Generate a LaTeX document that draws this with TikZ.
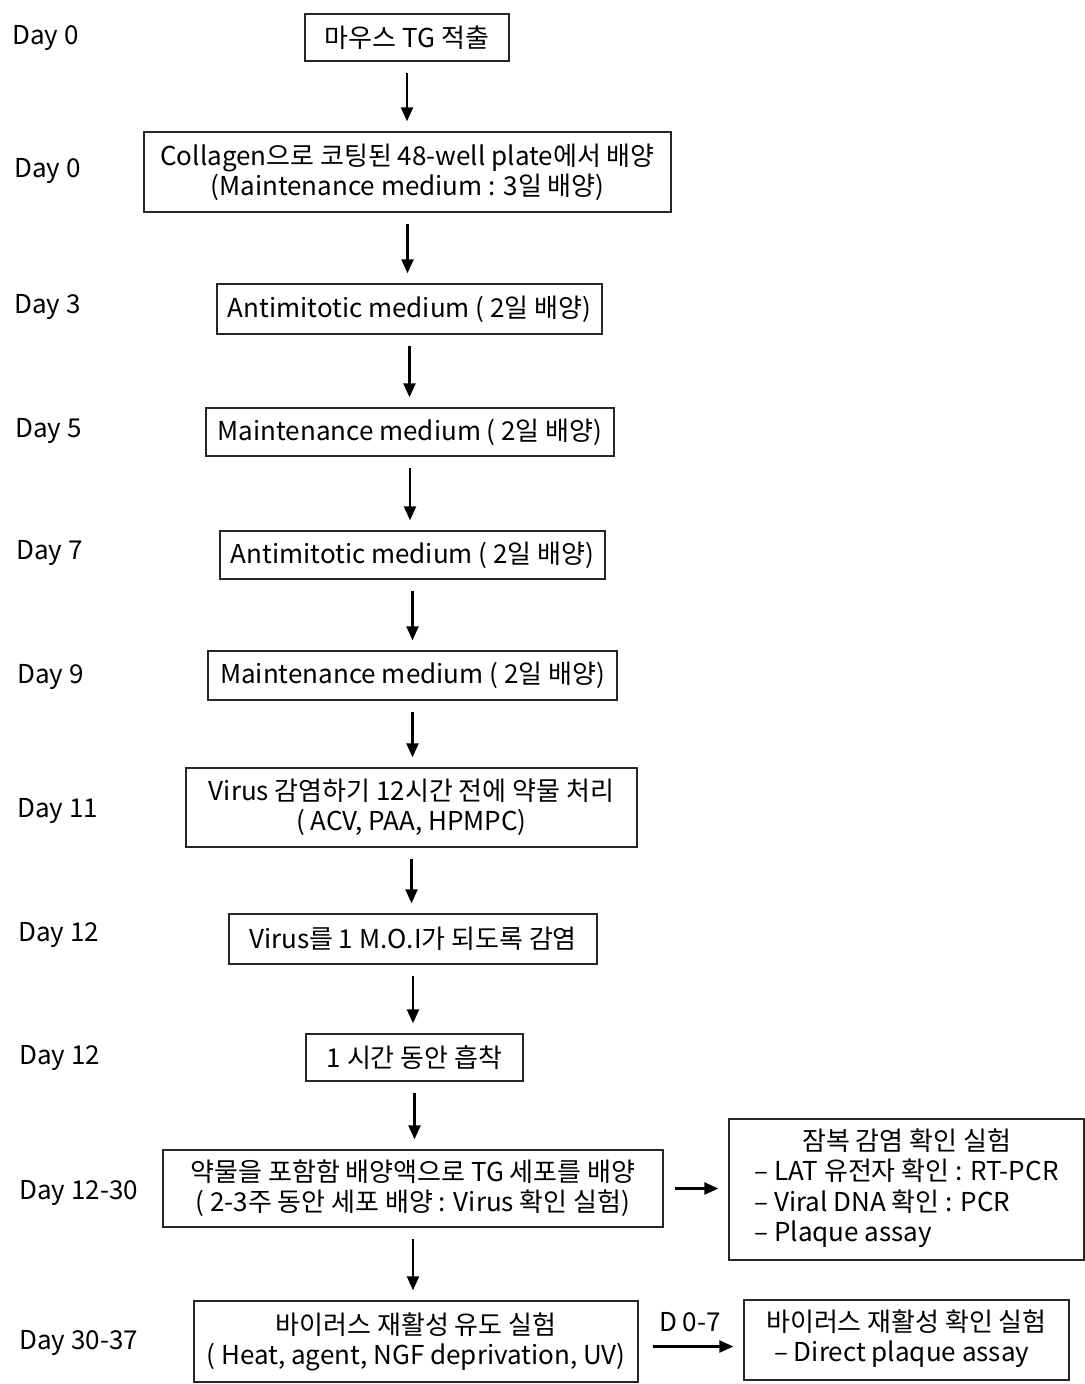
\documentclass[tikz,border=0pt]{standalone}
\usepackage{fontspec}
\setmainfont{Noto Sans CJK KR}
\usetikzlibrary{arrows.meta}

\tikzset{
  box/.style={draw=black!85, line width=0.7pt, inner sep=0pt, align=center, font=\fontsize{13}{15}\selectfont},
  day/.style={anchor=west, inner sep=0pt, font=\fontsize{13}{15}\selectfont},
  flow/.style={-{Triangle[length=7pt,width=6pt]}, line width=1.2pt, shorten >=5pt, shorten <=5.5pt}
}

\begin{document}
\begin{tikzpicture}[x=0.5pt, y=-0.5pt]
\useasboundingbox (0,0) rectangle (1084,1384);
\node[box, minimum width=102pt, minimum height=23.5pt] (tg) at (407,37.5) {마우스 TG 적출};
\node[box, minimum width=263.5pt, minimum height=40pt] (coll) at (407.5,172) {Collagen으로 코팅된 48-well plate에서 배양\\(Maintenance medium : 3일 배양)};
\node[box, minimum width=192.5pt, minimum height=25pt] (anti1) at (409.5,309) {Antimitotic medium ( 2일 배양)};
\node[box, minimum width=204pt, minimum height=24pt] (main1) at (410,432) {Maintenance medium ( 2일 배양)};
\node[box, minimum width=192.5pt, minimum height=24pt] (anti2) at (412.5,555) {Antimitotic medium ( 2일 배양)};
\node[box, minimum width=204.5pt, minimum height=24.5pt] (main2) at (412.5,675.5) {Maintenance medium ( 2일 배양)};
\node[box, minimum width=225.5pt, minimum height=39.5pt] (drug) at (411.5,807.5) {Virus 감염하기 12시간 전에 약물 처리\\( ACV, PAA, HPMPC)};
\node[box, minimum width=184pt, minimum height=25pt] (infect) at (413,939) {Virus를 1 M.O.I가 되도록 감염};
\node[box, minimum width=108.5pt, minimum height=23.5pt] (adsorb) at (414.5,1057.5) {1 시간 동안 흡착};
\node[box, minimum width=250pt, minimum height=38.5pt] (culture) at (413,1188.5) {약물을 포함함 배양액으로 TG 세포를 배양\\( 2-3주 동안 세포 배양 : Virus 확인 실험)};
\node[box, minimum width=222pt, minimum height=40.5pt] (react) at (416,1341.5) {바이러스 재활성 유도 실험\\( Heat, agent, NGF deprivation, UV)};
\node[box, minimum width=177.5pt, minimum height=70.5pt] (latent) at (906.5,1189.5) {\begin{tabular}{@{}l@{}}\multicolumn{1}{@{}c@{}}{잠복 감염 확인 실험}\\– LAT 유전자 확인 : RT-PCR\\– Viral DNA 확인 : PCR\\– Plaque assay\end{tabular}};
\node[box, minimum width=162.5pt, minimum height=40pt] (check) at (906.5,1340) {\begin{tabular}{@{}l@{}}바이러스 재활성 확인 실험\\\hspace{4pt}– Direct plaque assay\end{tabular}};

\node[day] (d0a) at (12,38) {Day 0};
\node[day] (d0b) at (14,171) {Day 0};
\node[day] (d3) at (14,307) {Day 3};
\node[day] (d5) at (15,431) {Day 5};
\node[day] (d7) at (16,553) {Day 7};
\node[day] (d9) at (17,677) {Day 9};
\node[day] (d11) at (17,811) {Day 11};
\node[day] (d12a) at (18,935) {Day 12};
\node[day] (d12b) at (19,1058) {Day 12};
\node[day] (d1230) at (19,1193) {Day 12-30};
\node[day] (d3037) at (19,1343) {Day 30-37};

\foreach \a/\b in {tg/coll, coll/anti1, anti1/main1, main1/anti2, anti2/main2, main2/drug, drug/infect, infect/adsorb, adsorb/culture, culture/react}
  \draw[flow] (\a.south) -- (\a.south |- \b.north);
\draw[flow] (culture.east) -- (culture.east -| latent.west);
\draw[flow, shorten <=7pt] ([yshift=-2.5pt]react.east) -- ([yshift=-2.5pt]react.east -| check.west);
\node[day, anchor=center] (d07) at (690,1322) {D 0-7};
\end{tikzpicture}
\end{document}
